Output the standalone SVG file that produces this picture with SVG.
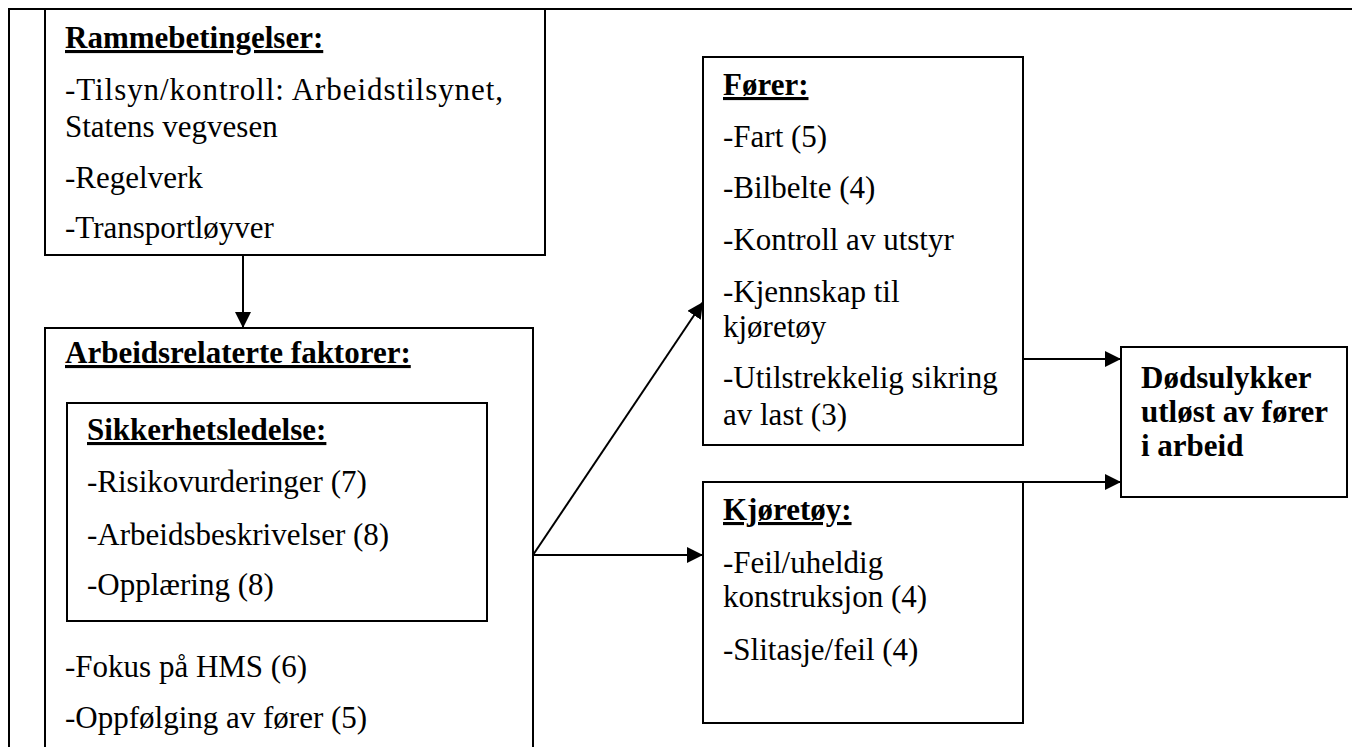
<svg xmlns="http://www.w3.org/2000/svg" width="1352" height="747" viewBox="0 0 1352 747">
  <defs>
    <style>
      .box { fill: #ffffff; stroke: #000000; stroke-width: 2; }
      .frame { fill: none; stroke: #000000; stroke-width: 2; }
      .link { fill: none; stroke: #000000; stroke-width: 2; }
      text { font-family: "Liberation Serif", "Times New Roman", serif; font-size: 31px; fill: #000000; }
      .head { font-weight: bold; text-decoration: underline; }
      .bold { font-weight: bold; }
    </style>
    <marker id="arrow" markerUnits="userSpaceOnUse" markerWidth="17" markerHeight="16" refX="16" refY="8" orient="auto">
      <path d="M0,0 L16,8 L0,16 Z" fill="#000000"/>
    </marker>
  </defs>

  <rect width="1352" height="747" fill="#ffffff"/>

  <!-- page frame -->
  <g id="frame">
    <line class="frame" x1="9" y1="9" x2="1352" y2="9"/>
    <line class="frame" x1="9" y1="8" x2="9" y2="747"/>
  </g>

  <!-- framework conditions -->
  <g id="rammebetingelser">
    <rect class="box" x="45" y="9" width="500" height="246"/>
    <text class="head" x="65" y="48">Rammebetingelser:</text>
    <text x="65" y="100" textLength="438" lengthAdjust="spacing">-Tilsyn/kontroll: Arbeidstilsynet,</text>
    <text x="65" y="137">Statens vegvesen</text>
    <text x="65" y="188">-Regelverk</text>
    <text x="65" y="238">-Transportløyver</text>
  </g>

  <!-- work-related factors -->
  <g id="arbeidsrelaterte">
    <rect class="box" x="45" y="328" width="488" height="440"/>
    <text class="head" x="65" y="363">Arbeidsrelaterte faktorer:</text>
    <text x="65" y="677">-Fokus på HMS (6)</text>
    <text x="65" y="728">-Oppfølging av fører (5)</text>
  </g>

  <!-- safety management (inside work-related factors) -->
  <g id="sikkerhetsledelse">
    <rect class="box" x="67" y="403" width="420" height="218"/>
    <text class="head" x="87" y="440">Sikkerhetsledelse:</text>
    <text x="87" y="492">-Risikovurderinger (7)</text>
    <text x="87" y="545">-Arbeidsbeskrivelser (8)</text>
    <text x="87" y="595">-Opplæring (8)</text>
  </g>

  <!-- driver -->
  <g id="forer">
    <rect class="box" x="703" y="57" width="320" height="388"/>
    <text class="head" x="723" y="95">Fører:</text>
    <text x="723" y="147">-Fart (5)</text>
    <text x="723" y="198">-Bilbelte (4)</text>
    <text x="723" y="250">-Kontroll av utstyr</text>
    <text x="723" y="302">-Kjennskap til</text>
    <text x="723" y="337">kjøretøy</text>
    <text x="723" y="388">-Utilstrekkelig sikring</text>
    <text x="723" y="425">av last (3)</text>
  </g>

  <!-- vehicle -->
  <g id="kjoretoy">
    <rect class="box" x="703" y="482" width="320" height="241"/>
    <text class="head" x="723" y="520">Kjøretøy:</text>
    <text x="723" y="573">-Feil/uheldig</text>
    <text x="723" y="607">konstruksjon (4)</text>
    <text x="723" y="660">-Slitasje/feil (4)</text>
  </g>

  <!-- outcome -->
  <g id="dodsulykker">
    <rect class="box" x="1121" y="347" width="226" height="150"/>
    <text class="bold" x="1141" y="388">Dødsulykker</text>
    <text class="bold" x="1141" y="422">utløst av fører</text>
    <text class="bold" x="1141" y="456">i arbeid</text>
  </g>

  <!-- connectors -->
  <g id="connectors">
    <line class="link" x1="243" y1="255" x2="243" y2="328" marker-end="url(#arrow)"/>
    <line class="link" x1="533" y1="555" x2="703" y2="302" marker-end="url(#arrow)"/>
    <line class="link" x1="533" y1="555" x2="703" y2="555" marker-end="url(#arrow)"/>
    <line class="link" x1="1023" y1="359" x2="1121" y2="359" marker-end="url(#arrow)"/>
    <line class="link" x1="1023" y1="482" x2="1121" y2="482" marker-end="url(#arrow)"/>
  </g>
</svg>
